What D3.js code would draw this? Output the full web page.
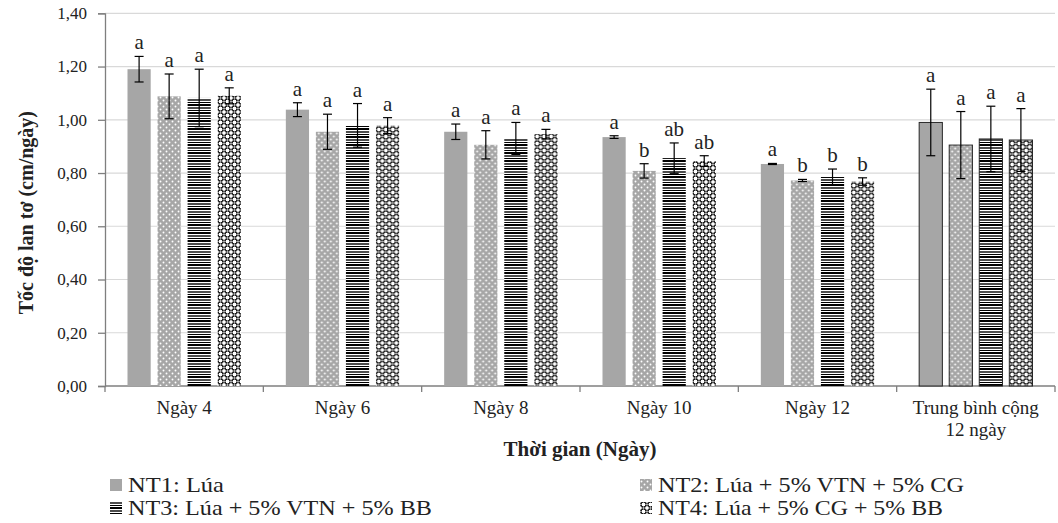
<!DOCTYPE html>
<html>
<head>
<meta charset="utf-8">
<script src="https://cdn.jsdelivr.net/npm/d3@7"></script>
<style>
  html, body { margin: 0; padding: 0; background: #fff; }
  svg { display: block; font-family: "Liberation Serif", "Times New Roman", serif; }
</style>
</head>
<body>
<svg id="chart" width="1058" height="523"></svg>
<script>
// ---- DATA ----
const categories = ["Ngày 4", "Ngày 6", "Ngày 8", "Ngày 10", "Ngày 12", "Trung bình cộng 12 ngày"];
const categoryLines = [["Ngày 4"], ["Ngày 6"], ["Ngày 8"], ["Ngày 10"], ["Ngày 12"], ["Trung bình cộng", "12 ngày"]];
const seriesNames = ["NT1: Lúa", "NT2: Lúa + 5% VTN + 5% CG", "NT3: Lúa + 5% VTN + 5% BB", "NT4: Lúa + 5% CG + 5% BB"];

const nt1 = [1.19, 1.038, 0.955, 0.935, 0.834, 0.99];
const nt2 = [1.088, 0.955, 0.906, 0.808, 0.772, 0.905];
const nt3 = [1.082, 0.979, 0.930, 0.856, 0.785, 0.928];
const nt4 = [1.09, 0.978, 0.946, 0.845, 0.768, 0.924];

const nt1Err = [0.048, 0.026, 0.029, 0.005, 0.002, 0.125];
const nt2Err = [0.084, 0.066, 0.053, 0.027, 0.004, 0.126];
const nt3Err = [0.108, 0.082, 0.060, 0.057, 0.030, 0.123];
const nt4Err = [0.030, 0.030, 0.018, 0.020, 0.014, 0.118];

const nt1Letters = ["a", "a", "a", "a", "a", "a"];
const nt2Letters = ["a", "a", "a", "b", "b", "a"];
const nt3Letters = ["a", "a", "a", "ab", "b", "a"];
const nt4Letters = ["a", "a", "a", "ab", "b", "a"];

const yTicks = [0, 0.2, 0.4, 0.6, 0.8, 1.0, 1.2, 1.4];
const yTitle = "Tốc độ lan tơ (cm/ngày)";
const xTitle = "Thời gian (Ngày)";

// ---- BUILD ----
const seriesKeys = ["nt1", "nt2", "nt3", "nt4"];
const values = [nt1, nt2, nt3, nt4];
const errs = [nt1Err, nt2Err, nt3Err, nt4Err];
const letters = [nt1Letters, nt2Letters, nt3Letters, nt4Letters];

const rows = [];
categories.forEach((c, ci) => {
  seriesKeys.forEach((k, si) => {
    rows.push({ cat: c, ci, key: k, si, v: values[si][ci], e: errs[si][ci], l: letters[si][ci] });
  });
});

const svg = d3.select("#chart");
const plot = { left: 105, right: 1055, top: 13.3, bottom: 386 };

// patterns
const defs = svg.append("defs");
const p2 = defs.append("pattern").attr("id", "pat-nt2").attr("patternUnits", "userSpaceOnUse")
  .attr("width", 6).attr("height", 6);
p2.append("rect").attr("width", 6).attr("height", 6).attr("fill", "#a6a6a6");
p2.append("circle").attr("cx", 1.5).attr("cy", 1.5).attr("r", 0.95).attr("fill", "#fff");
p2.append("circle").attr("cx", 4.5).attr("cy", 4.5).attr("r", 0.95).attr("fill", "#fff");

const p3 = defs.append("pattern").attr("id", "pat-nt3").attr("patternUnits", "userSpaceOnUse")
  .attr("width", 8).attr("height", 8);
p3.append("rect").attr("width", 8).attr("height", 8).attr("fill", "#fff");
p3.append("rect").attr("y", 0).attr("width", 8).attr("height", 2).attr("fill", "#000");
p3.append("rect").attr("y", 3.3).attr("width", 8).attr("height", 1.4).attr("fill", "#000");
p3.append("rect").attr("y", 6).attr("width", 8).attr("height", 1).attr("fill", "#000");

const p4 = defs.append("pattern").attr("id", "pat-nt4").attr("patternUnits", "userSpaceOnUse")
  .attr("width", 7).attr("height", 7);
p4.append("rect").attr("width", 7).attr("height", 7).attr("fill", "#fff");
[[3.5, 3.5], [0, 0], [7, 0], [0, 7], [7, 7]].forEach(([cx, cy]) => {
  p4.append("circle").attr("cx", cx).attr("cy", cy).attr("r", 2.4)
    .attr("fill", "none").attr("stroke", "#000").attr("stroke-width", 0.9);
});

const fills = { nt1: "#a6a6a6", nt2: "url(#pat-nt2)", nt3: "url(#pat-nt3)", nt4: "url(#pat-nt4)" };

// scales
const y = d3.scaleLinear().domain([0, 1.4]).range([plot.bottom, plot.top]);
const x0 = d3.scaleBand().domain(categories).range([plot.left, plot.right]).padding(0);
const x1 = d3.scaleBand().domain(seriesKeys).range([22.5, x0.bandwidth() - 22.5]).paddingInner(0.228).paddingOuter(0);

const locale = d3.formatLocale({ decimal: ",", thousands: ".", grouping: [3], currency: ["", ""] });
const fmt = locale.format(".2f");

// gridlines
svg.append("g").selectAll("line").data(yTicks.filter(t => t > 0)).join("line")
  .attr("x1", plot.left).attr("x2", plot.right)
  .attr("y1", d => y(d)).attr("y2", d => y(d))
  .attr("stroke", "#d9d9d9").attr("stroke-width", 1.2);

// y axis
const yAxis = svg.append("g").attr("transform", `translate(${plot.left},0)`)
  .call(d3.axisLeft(y).tickValues(yTicks).tickFormat(fmt).tickSize(7).tickPadding(11));
yAxis.select(".domain").attr("stroke", "#7f7f7f").attr("stroke-width", 1.3);
yAxis.selectAll(".tick line").attr("stroke", "#7f7f7f").attr("stroke-width", 1.3);
yAxis.selectAll(".tick text").attr("font-size", "17px").attr("fill", "#222")
  .attr("font-family", "Liberation Serif, serif");

// x axis
const xAxisG = svg.append("g");
xAxisG.append("line").attr("x1", plot.left).attr("x2", plot.right)
  .attr("y1", plot.bottom).attr("y2", plot.bottom)
  .attr("stroke", "#7f7f7f").attr("stroke-width", 1.3);
const boundaries = categories.map(c => x0(c)).concat([x0(categories[categories.length - 1]) + x0.bandwidth()]);
xAxisG.selectAll("line.tk").data(boundaries).join("line").attr("class", "tk")
  .attr("x1", d => d).attr("x2", d => d)
  .attr("y1", plot.bottom).attr("y2", plot.bottom + 6)
  .attr("stroke", "#7f7f7f").attr("stroke-width", 1.3);
const catText = xAxisG.selectAll("text.cat").data(categories).join("text").attr("class", "cat")
  .attr("x", d => x0(d) + x0.bandwidth() / 2)
  .attr("y", 414)
  .attr("text-anchor", "middle").attr("font-size", "19px").attr("fill", "#222");
catText.each(function (d, i) {
  const t = d3.select(this);
  categoryLines[i].forEach((ln, li) => {
    t.append("tspan").attr("x", x0(d) + x0.bandwidth() / 2).attr("dy", li === 0 ? 0 : 22).text(ln);
  });
});

// bars
const groups = svg.append("g").selectAll("g").data(categories).join("g")
  .attr("transform", d => `translate(${x0(d)},0)`);
groups.selectAll("rect").data(c => rows.filter(r => r.cat === c)).join("rect")
  .attr("x", d => x1(d.key))
  .attr("y", d => y(d.v))
  .attr("width", x1.bandwidth())
  .attr("height", d => y(0) - y(d.v))
  .attr("fill", d => fills[d.key])
  .attr("stroke", d => d.ci === categories.length - 1 ? "#262626" : "none")
  .attr("stroke-width", 1);

// error bars
const capW = 9;
const eb = groups.selectAll("g.err").data(c => rows.filter(r => r.cat === c)).join("g").attr("class", "err");
const cx = d => x1(d.key) + x1.bandwidth() / 2;
eb.append("line").attr("x1", cx).attr("x2", cx)
  .attr("y1", d => y(d.v + d.e)).attr("y2", d => y(d.v - d.e));
eb.append("line").attr("x1", d => cx(d) - capW / 2).attr("x2", d => cx(d) + capW / 2)
  .attr("y1", d => y(d.v + d.e)).attr("y2", d => y(d.v + d.e));
eb.append("line").attr("x1", d => cx(d) - capW / 2).attr("x2", d => cx(d) + capW / 2)
  .attr("y1", d => y(d.v - d.e)).attr("y2", d => y(d.v - d.e));
eb.selectAll("line").attr("stroke", "#000").attr("stroke-width", 1.2);

// letters
groups.selectAll("text.lt").data(c => rows.filter(r => r.cat === c)).join("text").attr("class", "lt")
  .attr("x", cx)
  .attr("y", d => y(d.v + d.e) - 7)
  .attr("text-anchor", "middle").attr("font-size", "21px").attr("fill", "#222")
  .text(d => d.l);

// axis titles
svg.append("text")
  .attr("transform", `translate(33,${(plot.top + plot.bottom) / 2 + 13}) rotate(-90)`)
  .attr("text-anchor", "middle").attr("font-size", "20px").attr("font-weight", "bold").attr("fill", "#222")
  .text(yTitle);
svg.append("text")
  .attr("x", (plot.left + plot.right) / 2).attr("y", 456)
  .attr("text-anchor", "middle").attr("font-size", "21px").attr("font-weight", "bold").attr("fill", "#222")
  .text(xTitle);

// legend
const legendPos = [
  { x: 110, y: 492, tl: 96 },
  { x: 640, y: 492, tl: 306 },
  { x: 110, y: 515, tl: 304 },
  { x: 640, y: 515, tl: 285 }
];
const lg = svg.append("g").selectAll("g").data(seriesKeys).join("g")
  .attr("transform", (d, i) => `translate(${legendPos[i].x},${legendPos[i].y})`);
lg.append("rect").attr("x", 0).attr("y", -13).attr("width", 12).attr("height", 12)
  .attr("fill", d => fills[d]);
lg.append("text").attr("x", 18).attr("y", 0)
  .attr("font-size", "21px").attr("fill", "#222")
  .attr("textLength", (d, i) => legendPos[i].tl).attr("lengthAdjust", "spacingAndGlyphs")
  .text((d, i) => seriesNames[i]);
</script>
</body>
</html>
